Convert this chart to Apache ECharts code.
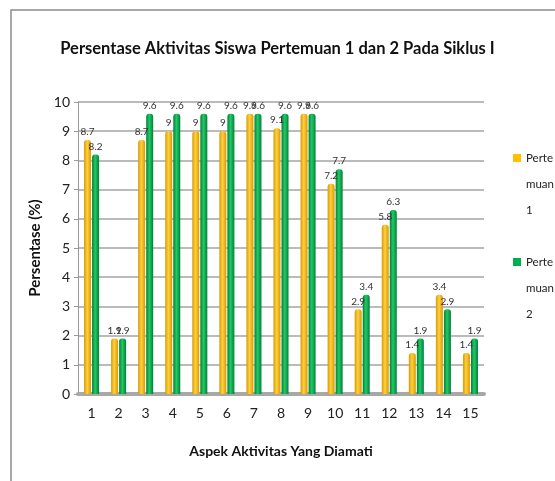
<!DOCTYPE html>
<html>
<head>
<meta charset="utf-8">
<script src="https://cdn.jsdelivr.net/npm/echarts@6/dist/echarts.min.js"></script>
<style>
  body { margin: 0; background: #fff; }
  #chart { width: 555px; height: 481px; }
</style>
</head>
<body>
<div id="chart"></div>
<script>
// data
var aspek = ['1','2','3','4','5','6','7','8','9','10','11','12','13','14','15'];
var pertemuan1 = [8.7, 1.9, 8.7, 9, 9, 9, 9.6, 9.1, 9.6, 7.2, 2.9, 5.8, 1.4, 3.4, 1.4];
var pertemuan2 = [8.2, 1.9, 9.6, 9.6, 9.6, 9.6, 9.6, 9.6, 9.6, 7.7, 3.4, 6.3, 1.9, 2.9, 1.9];
var seriesNames = ['Pertemuan 1', 'Pertemuan 2'];

var font = "Lato, 'Liberation Sans', sans-serif";

function cylinder(dark, light) {
	return new echarts.graphic.LinearGradient(0, 0, 1, 0, [
		{ offset: 0, color: dark },
		{ offset: 0.45, color: light },
		{ offset: 1, color: dark }
	]);
}

function legendFor(name, top) {
	return {
		data: [name],
		orient: 'vertical',
		left: 513,
		top: top,
		padding: 0,
		icon: 'rect',
		itemWidth: 8,
		itemHeight: 8,
		itemGap: 4,
		formatter: function (n) {
			return '\n\nPerte\nmuan\n' + n.slice(-1);
		},
		textStyle: { fontFamily: font, fontSize: 11.5, color: '#222', lineHeight: 26 }
	};
}

var mychart = echarts.init(document.getElementById('chart'));
var option = {
	animation: false,
	title: {
		text: 'Persentase Aktivitas Siswa Pertemuan 1 dan 2 Pada Siklus I',
		left: 'center',
		top: 35,
		textStyle: { fontFamily: font, fontSize: 16.5, fontWeight: 'bold', color: '#111' }
	},
	graphic: [{
		type: 'rect',
		shape: { x: 11, y: 10, width: 700, height: 600 },
		style: { fill: 'none', stroke: '#8c8c8c', lineWidth: 1.5 },
		silent: true
	}],
	legend: [legendFor(seriesNames[0], 93), legendFor(seriesNames[1], 197)],
	grid: { left: 78, right: 71, top: 102, bottom: 87 },
	xAxis: {
		type: 'category',
		data: aspek,
		name: 'Aspek Aktivitas Yang Diamati',
		nameLocation: 'middle',
		nameGap: 50,
		nameTextStyle: { fontFamily: font, fontSize: 14, fontWeight: 'bold', color: '#111' },
		axisLine: { lineStyle: { color: '#a8a8a8', width: 4 } },
		axisTick: { show: false },
		axisLabel: { fontFamily: font, fontSize: 14, color: '#222', margin: 12 }
	},
	yAxis: {
		type: 'value',
		min: 0,
		max: 10,
		interval: 1,
		name: 'Persentase (%)',
		nameLocation: 'middle',
		nameGap: 32,
		nameTextStyle: { fontFamily: font, fontSize: 15, fontWeight: 'bold', color: '#111' },
		axisLine: { show: true, lineStyle: { color: '#9a9a9a', width: 1 } },
		axisTick: { show: true, length: 4, lineStyle: { color: '#9a9a9a' } },
		axisLabel: { fontFamily: font, fontSize: 14, color: '#222', margin: 8 },
		splitLine: { lineStyle: { color: '#a4a4a4', width: 1.5 } }
	},
	series: [{
		name: seriesNames[0],
		type: 'bar',
		data: pertemuan1,
		barWidth: 7,
		barGap: '15%',
		itemStyle: { color: cylinder('#d99a00', '#ffd040'), borderRadius: [3, 3, 0, 0] },
		label: { show: true, position: 'top', distance: 3, fontFamily: font, fontSize: 10, color: '#333' }
	}, {
		name: seriesNames[1],
		type: 'bar',
		data: pertemuan2,
		barWidth: 7,
		itemStyle: { color: cylinder('#00803a', '#22c964'), borderRadius: [3, 3, 0, 0] },
		label: { show: true, position: 'top', distance: 3, fontFamily: font, fontSize: 10, color: '#333' }
	}]
};
mychart.setOption(option);
// legend icons use the flat series colours
mychart.setOption({
	legend: [
		{ itemStyle: { color: '#ffc000' } },
		{ itemStyle: { color: '#00b050' } }
	]
});
</script>
</body>
</html>
